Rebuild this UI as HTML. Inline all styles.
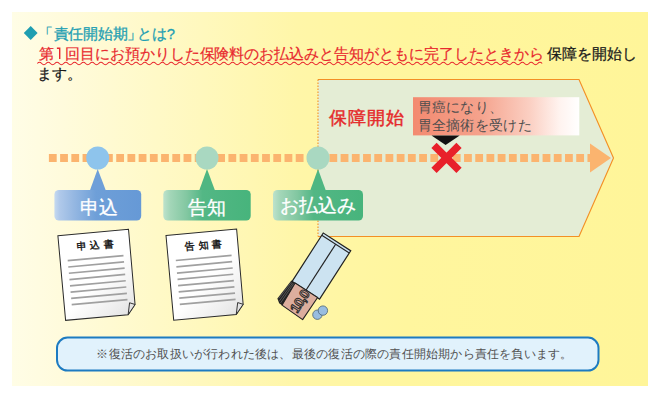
<!DOCTYPE html>
<html><head><meta charset="utf-8">
<style>
html,body{margin:0;padding:0;background:#fff;width:660px;height:400px;overflow:hidden}
svg{display:block}
text{font-family:"Liberation Sans",sans-serif}
</style></head><body>
<svg width="660" height="400" viewBox="0 0 660 400">
<defs>
  <linearGradient id="bg" gradientUnits="userSpaceOnUse" x1="12" x2="648" y1="0" y2="0">
    <stop offset="0" stop-color="#fffde6"/>
    <stop offset="0.08" stop-color="#fffbdc"/>
    <stop offset="0.45" stop-color="#fff6a8"/>
    <stop offset="0.62" stop-color="#fff69e"/>
    <stop offset="1" stop-color="#fff599"/>
  </linearGradient>
  <linearGradient id="note" x1="0" x2="1" y1="0" y2="0">
    <stop offset="0" stop-color="#f38a70"/>
    <stop offset="0.4" stop-color="#f5a28c"/>
    <stop offset="0.7" stop-color="#fbcfc2"/>
    <stop offset="0.88" stop-color="#fff3ef"/>
    <stop offset="1" stop-color="#ffffff"/>
  </linearGradient>
  <linearGradient id="lblB" x1="0" x2="1" y1="0" y2="0">
    <stop offset="0" stop-color="#c6daf0"/>
    <stop offset="0.06" stop-color="#b0c9ea"/>
    <stop offset="0.22" stop-color="#96b8e2"/>
    <stop offset="0.48" stop-color="#6e9fd8"/>
    <stop offset="1" stop-color="#6699d6"/>
  </linearGradient>
  <linearGradient id="lblG" x1="0" x2="1" y1="0" y2="0">
    <stop offset="0" stop-color="#bde2cc"/>
    <stop offset="0.08" stop-color="#a3d6b8"/>
    <stop offset="0.27" stop-color="#82c7a1"/>
    <stop offset="0.45" stop-color="#53b785"/>
    <stop offset="1" stop-color="#47b47c"/>
  </linearGradient>
  <linearGradient id="paper" gradientUnits="userSpaceOnUse" x1="0" y1="0" x2="71" y2="85">
    <stop offset="0.55" stop-color="#ffffff"/>
    <stop offset="0.85" stop-color="#ececec"/>
    <stop offset="1" stop-color="#dedede"/>
  </linearGradient>
  <g id="doclines" stroke="#a0a0a0" stroke-width="1.7"><line x1="7.5" y1="25.8" x2="63.5" y2="25.8"/><line x1="7.5" y1="32.1" x2="63.5" y2="32.1"/><line x1="7.5" y1="38.4" x2="63.5" y2="38.4"/><line x1="7.5" y1="44.7" x2="63.5" y2="44.7"/><line x1="7.5" y1="51.0" x2="63.5" y2="51.0"/><line x1="7.5" y1="57.3" x2="63.5" y2="57.3"/><line x1="7.5" y1="63.6" x2="63.5" y2="63.6"/><line x1="7.5" y1="69.9" x2="63.5" y2="69.9"/></g>
  <g id="docshape">
    <path d="M0 0 L70.9 0 L70.6 75.5 L62.8 85 L0 85 Z" fill="url(#paper)" stroke="#2a2a2a" stroke-width="1"/>
    <path d="M70.6 75.5 L65.3 73.3 L62.8 85 Z" fill="#e4e4e4" stroke="#2a2a2a" stroke-width="0.9" stroke-linejoin="round"/>
  </g>
</defs>

<!-- panel -->
<rect x="12" y="12" width="636" height="374" fill="url(#bg)"/>

<!-- header -->
<path d="M30.7 26 L37.6 33 L30.7 40 L23.8 33 Z" fill="#1f9eb1"/>
<g fill="#1f9fb3" stroke="#1f9fb3" stroke-width="0.3" font-size="14.8">
  <text x="37.9" y="39">「</text>
  <text x="53.6" y="39" textLength="74.5" lengthAdjust="spacing">責任開始期</text>
  <text x="126.8" y="39">」</text>
  <text x="136.8" y="39">とは?</text>
</g>
<g font-size="15" fill="#e8282e" stroke="#e8282e" stroke-width="0.2">
<text x="38.6" y="58.7">第</text><path d="M56.9 48.3 L59.7 48.3 L59.7 59" fill="none" stroke="#e8282e" stroke-width="1.4"/>
<text x="64.8" y="58.7" textLength="479" lengthAdjust="spacing">回目にお預かりした保険料のお払込みと告知がともに完了したときから</text>
<text x="547.3" y="58.7" textLength="89.5" lengthAdjust="spacing" fill="#1a1a1a" stroke="#1a1a1a" stroke-width="0.25">保障を開始し</text>
</g>
<path d="M37.30 63.50 Q39.50 60.90 41.70 63.50 T46.09 63.50 T50.48 63.50 T54.87 63.50 T59.26 63.50 T63.65 63.50 T68.03 63.50 T72.42 63.50 T76.81 63.50 T81.20 63.50 T85.59 63.50 T89.98 63.50 T94.38 63.50 T98.77 63.50 T103.16 63.50 T107.55 63.50 T111.94 63.50 T116.33 63.50 T120.72 63.50 T125.11 63.50 T129.50 63.50 T133.88 63.50 T138.27 63.50 T142.66 63.50 T147.05 63.50 T151.44 63.50 T155.83 63.50 T160.22 63.50 T164.61 63.50 T169.00 63.50 T173.39 63.50 T177.78 63.50 T182.17 63.50 T186.56 63.50 T190.95 63.50 T195.34 63.50 T199.73 63.50 T204.12 63.50 T208.51 63.50 T212.90 63.50 T217.29 63.50 T221.68 63.50 T226.07 63.50 T230.46 63.50 T234.85 63.50 T239.24 63.50 T243.63 63.50 T248.02 63.50 T252.41 63.50 T256.80 63.50 T261.19 63.50 T265.58 63.50 T269.97 63.50 T274.36 63.50 T278.75 63.50 T283.14 63.50 T287.53 63.50 T291.92 63.50 T296.31 63.50 T300.70 63.50 T305.09 63.50 T309.48 63.50 T313.87 63.50 T318.26 63.50 T322.65 63.50 T327.04 63.50 T331.43 63.50 T335.82 63.50 T340.21 63.50 T344.60 63.50 T348.99 63.50 T353.38 63.50 T357.77 63.50 T362.16 63.50 T366.55 63.50 T370.94 63.50 T375.33 63.50 T379.72 63.50 T384.11 63.50 T388.50 63.50 T392.89 63.50 T397.28 63.50 T401.67 63.50 T406.06 63.50 T410.45 63.50 T414.84 63.50 T419.23 63.50 T423.62 63.50 T428.01 63.50 T432.40 63.50 T436.79 63.50 T441.18 63.50 T445.57 63.50 T449.96 63.50 T454.35 63.50 T458.74 63.50 T463.13 63.50 T467.52 63.50 T471.91 63.50 T476.30 63.50 T480.69 63.50 T485.08 63.50 T489.47 63.50 T493.86 63.50 T498.25 63.50 T502.64 63.50 T507.03 63.50 T511.42 63.50 T515.81 63.50 T520.20 63.50 T524.59 63.50 T528.98 63.50 T533.37 63.50 T537.76 63.50 T542.15 63.50" fill="none" stroke="#e8282e" stroke-width="1.05"/>
<text x="37" y="79" font-size="15" fill="#1a1a1a" stroke="#1a1a1a" stroke-width="0.25">ます。</text>

<!-- pentagon -->
<path d="M318 79.5 L579 79.5 L613.5 158 L579 236.5 L318 236.5 Z" fill="#e4edd5" stroke="none"/>
<path d="M318 79.5 L579 79.5 L613.5 158 L579 236.5 L318 236.5" fill="none" stroke="#f39025" stroke-width="1.15"/>
<line x1="318" y1="79.5" x2="318" y2="236.5" stroke="#f39025" stroke-width="1.1" stroke-dasharray="1.5 1.5"/>

<text x="329.4" y="124.2" font-size="18" textLength="75" lengthAdjust="spacing" fill="#e42a2a" stroke="#e42a2a" stroke-width="0.45">保障開始</text>

<!-- note box -->
<rect x="413" y="97.2" width="166.3" height="38.2" fill="url(#note)"/>
<g fill="#4e4e4e" font-size="13.7">
<text x="417.5" y="111.7" textLength="85.5" lengthAdjust="spacing">胃癌になり、</text>
<text x="417.5" y="129.5" textLength="114" lengthAdjust="spacing">胃全摘術を受けた</text>
</g>
<path d="M431.5 135.4 L459.7 135.4 L445.6 145 Z" fill="#111"/>

<!-- dashed timeline -->
<line x1="48.9" y1="158" x2="590" y2="158" stroke="#fbb46f" stroke-width="7.8" stroke-dasharray="7.8 3.42"/>
<path d="M590 143.5 L611 158 L590 172.5 Z" fill="#fbb46f"/>

<!-- red X -->
<path d="M434 145.3 L459 170.3 M459 145.3 L434 170.3" stroke="#e8202a" stroke-width="7.4" stroke-linecap="butt"/>

<!-- circles + labels -->
<circle cx="97.7" cy="158" r="11.5" fill="#8ec4ec"/>
<path d="M97.7 169 L89.7 191 L106 191 Z" fill="#6e9fd8"/>
<rect x="54.4" y="190" width="86.8" height="30.5" rx="4.5" fill="url(#lblB)"/>
<text x="98.5" y="213.5" font-size="19" fill="#fff" stroke="#fff" stroke-width="0.3" text-anchor="middle">申込</text>

<circle cx="207" cy="158" r="11.5" fill="#a9d8c1"/>
<path d="M207 169 L199 191 L215.2 191 Z" fill="#4fb682"/>
<rect x="163.3" y="190" width="87.4" height="30.5" rx="4.5" fill="url(#lblG)"/>
<text x="207" y="213.5" font-size="19" fill="#fff" stroke="#fff" stroke-width="0.3" text-anchor="middle">告知</text>

<circle cx="318" cy="158" r="11.5" fill="#a9d8c1"/>
<path d="M318 169 L310 191 L326 191 Z" fill="#4fb682"/>
<rect x="273" y="190" width="90" height="30.5" rx="4.5" fill="url(#lblG)"/>
<text x="318" y="211.6" font-size="18.6" fill="#fff" stroke="#fff" stroke-width="0.3" text-anchor="middle">お払込み</text>

<!-- documents -->
<g transform="translate(57.9 235.7) rotate(-5.2)">
  <use href="#docshape"/>
  <text x="38" y="16.2" font-size="10" font-weight="bold" fill="#222" text-anchor="middle" letter-spacing="3.5" font-family="Liberation Serif">申込書</text>
  <use href="#doclines"/>
</g>
<g transform="translate(166 235.5) rotate(-5.2)">
  <use href="#docshape"/>
  <text x="38" y="16.2" font-size="10" font-weight="bold" fill="#222" text-anchor="middle" letter-spacing="3.5" font-family="Liberation Serif">告知書</text>
  <use href="#doclines"/>
</g>

<!-- envelope + money -->
<g transform="translate(323.25 233) rotate(32.8)">
  <path d="M0 0 L32.7 0 L32.7 57.5 L0 57.5 Z" fill="#cce3f1" stroke="#222" stroke-width="1.2"/>
  <path d="M0 2.7 L32.7 2.7" stroke="#222" stroke-width="1"/>
  <path d="M16.5 2.7 L16.5 57.5" stroke="#222" stroke-width="1.2"/>
  <path d="M3.5 57.3 L30.2 57.3 L29.6 84 L4.4 83 Z" fill="#dcae9e" stroke="#222" stroke-width="1.1" stroke-linejoin="round"/>
  <path d="M-1 57.3 L3.5 57.3 L4.4 83 L1 83 L-3 80 Z" fill="#222"/>
  <g stroke="#888" stroke-width="0.45"><line x1="-0.2" y1="58.5" x2="-2" y2="79"/><line x1="1.3" y1="58.5" x2="0" y2="81"/><line x1="2.6" y1="58.5" x2="2" y2="82"/></g>
  <text transform="translate(17.3 70.3) rotate(-90)" text-anchor="middle" y="4.6" font-size="13.5" font-weight="bold" letter-spacing="-0.7" fill="#dcae9e" stroke="#2a2a2a" stroke-width="1" style="font-family:'Liberation Sans',sans-serif">10,0</text>
</g>
<circle cx="317.4" cy="314.7" r="4.7" fill="#98bde0" stroke="#4a6275" stroke-width="0.8"/>
<circle cx="322.9" cy="310.6" r="4.7" fill="#98bde0" stroke="#4a6275" stroke-width="0.8"/>

<!-- bottom note -->
<rect x="57" y="337.6" width="541.5" height="33" rx="10.5" fill="#e1f2fc" stroke="#1d7bc1" stroke-width="2"/>
<text x="96.3" y="358.3" font-size="12.45" textLength="476" lengthAdjust="spacing" fill="#505050">※復活のお取扱いが行われた後は、最後の復活の際の責任開始期から責任を負います。</text>
</svg>
</body></html>
